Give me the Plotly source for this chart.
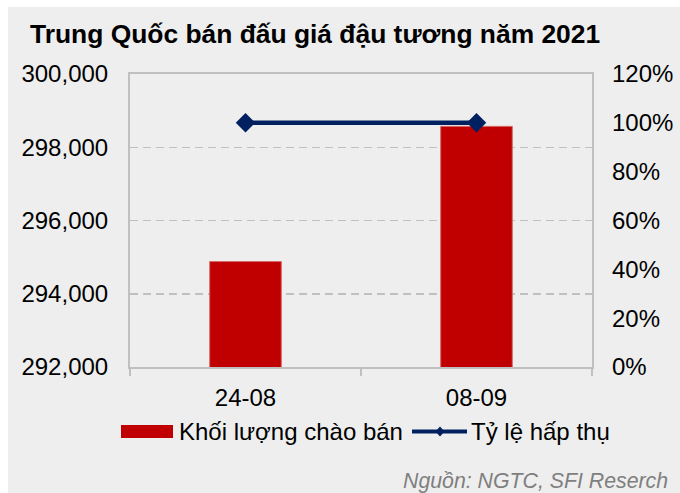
import plotly.graph_objects as go

categories = ["24-08", "08-09"]
offer_volume = [294880, 298570]
absorption_rate = [1.0, 1.0]
left_ticks = [292000, 294000, 296000, 298000, 300000]
right_ticks = [0, 0.2, 0.4, 0.6, 0.8, 1.0, 1.2]

title_text = "Trung Quốc bán đấu giá đậu tương năm 2021"
bar_name = "Khối lượng chào bán"
line_name = "Tỷ lệ hấp thụ"
source_text = "Nguồn: NGTC, SFI Reserch"

FIG_W, FIG_H = 680, 493
L, R, T, B = 130, 592, 74, 367
PW, PH = R - L, B - T


def px(x):
    return (x - L) / PW


def py(y):
    return (B - y) / PH


BG = "#eeeeee"
RED = "#c00000"
NAVY = "#002060"
GRIDC = "#c0c0c0"
FONT = "Liberation Sans, Arial, sans-serif"
FS = 24

fig = go.Figure()
fig.add_trace(go.Bar(x=categories, y=offer_volume, name=bar_name,
                     marker=dict(color=RED, line=dict(width=1, color="#d66a6a")),
                     width=0.31, showlegend=False, yaxis="y", hoverinfo="skip"))
fig.add_trace(go.Scatter(x=categories, y=absorption_rate, name=line_name,
                         mode="lines+markers", yaxis="y2",
                         line=dict(color=NAVY, width=4.5),
                         marker=dict(symbol="diamond", size=15, color=NAVY),
                         showlegend=False, hoverinfo="skip"))

shapes = [
    # white page strips (left and top) around the grey panel
    dict(type="rect", xref="paper", yref="paper", layer="above",
         x0=px(-5), x1=px(8), y0=py(FIG_H + 5), y1=py(-5),
         fillcolor="#ffffff", line=dict(width=0)),
    dict(type="rect", xref="paper", yref="paper", layer="above",
         x0=px(-5), x1=px(FIG_W + 5), y0=py(7), y1=py(-5),
         fillcolor="#ffffff", line=dict(width=0)),
    # legend swatches
    dict(type="rect", xref="paper", yref="paper",
         x0=px(121), x1=px(173), y0=py(438), y1=py(425),
         fillcolor=RED, line=dict(width=0)),
    dict(type="line", xref="paper", yref="paper",
         x0=px(412), x1=px(467), y0=py(431.5), y1=py(431.5),
         line=dict(color=NAVY, width=4)),
    dict(type="path", xref="paper", yref="paper",
         path=f"M {px(435.5)},{py(431.5)} L {px(440)},{py(426.5)} L {px(444.5)},{py(431.5)} L {px(440)},{py(436.5)} Z",
         fillcolor=NAVY, line=dict(width=0)),
]

annotations = [
    dict(text=bar_name, xref="paper", yref="paper", x=px(177), y=py(431.5),
         xanchor="left", yanchor="middle", showarrow=False,
         font=dict(size=FS, color="#000000", family=FONT)),
    dict(text=line_name, xref="paper", yref="paper", x=px(469), y=py(431.5),
         xanchor="left", yanchor="middle", showarrow=False,
         font=dict(size=FS, color="#000000", family=FONT)),
    dict(text=f"<i>{source_text}</i>", xref="paper", yref="paper", x=px(670), y=py(481),
         xanchor="right", yanchor="middle", showarrow=False,
         font=dict(size=21.3, color="#7f7f7f", family=FONT)),
]

fig.update_layout(
    width=FIG_W, height=FIG_H, autosize=False,
    margin=dict(l=L, r=FIG_W - R, t=T, b=FIG_H - B, pad=0, autoexpand=False),
    paper_bgcolor=BG, plot_bgcolor=BG,
    font=dict(family=FONT, size=FS, color="#000000"),
    title=dict(text=f"<b>{title_text}</b>", xref="container", yref="container",
               x=30 / FIG_W, xanchor="left", y=1 - 34 / FIG_H, yanchor="middle",
               font=dict(size=26.4, color="#000000", family=FONT)),
    xaxis=dict(type="category", showline=True, linecolor=GRIDC, linewidth=2, mirror=True,
               ticks="outside", tickson="boundaries", ticklen=7, tickcolor=GRIDC, tickwidth=2,
               showgrid=False, ticklabelstandoff=8, tickfont=dict(size=FS), automargin=False),
    yaxis=dict(range=[292000, 300000], tickvals=left_ticks, tickformat=",d",
               showline=True, linecolor=GRIDC, linewidth=2, mirror=True,
               showgrid=True, gridcolor=GRIDC, gridwidth=1.5, griddash="8px,5px",
               zeroline=False, ticks="", ticklabelstandoff=15, tickfont=dict(size=FS),
               automargin=False),
    yaxis2=dict(range=[0, 1.2], tickvals=right_ticks, tickformat=".0%",
                overlaying="y", side="right", showgrid=False, zeroline=False,
                showline=False, ticks="", ticklabelstandoff=19, tickfont=dict(size=FS),
                automargin=False),
    shapes=shapes, annotations=annotations,
    showlegend=False, hovermode=False,
)

fig.write_html("out.html",
               config={"displayModeBar": False, "staticPlot": True},
               post_script="document.documentElement.style.overflow='hidden';"
                           "document.body.style.overflow='hidden';"
                           "document.body.style.margin='0';")
